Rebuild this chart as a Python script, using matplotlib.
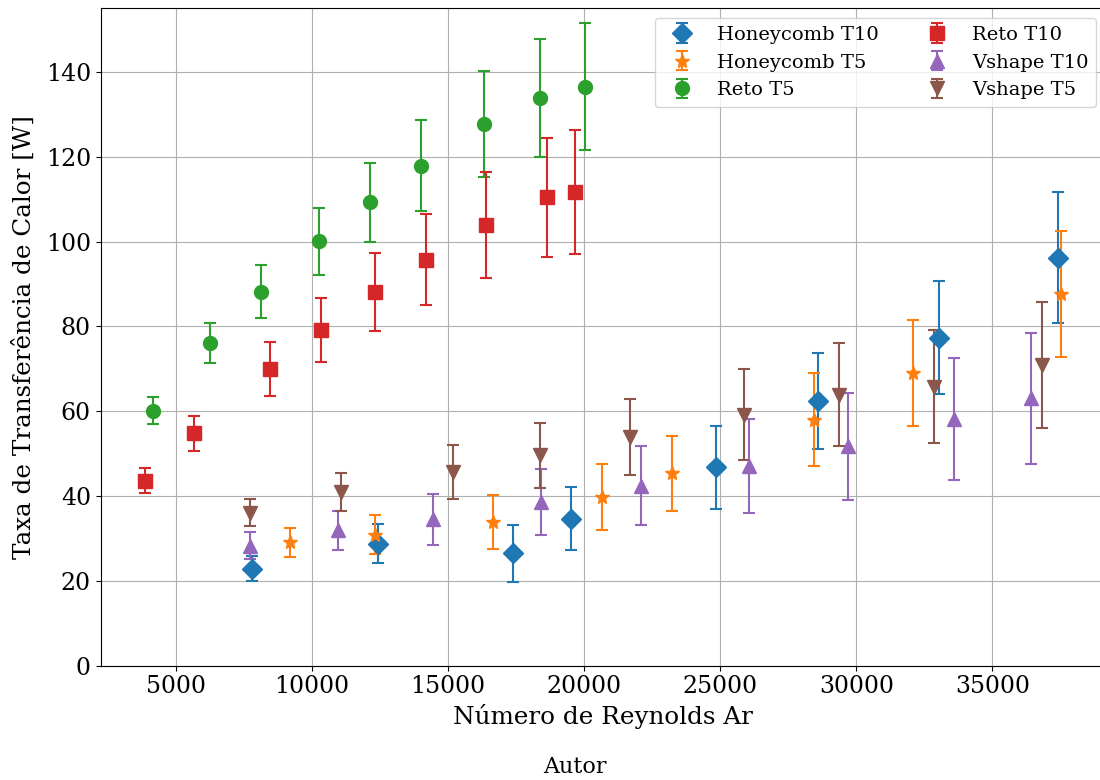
import matplotlib
matplotlib.use("Agg")
import matplotlib.pyplot as plt

plt.rcParams["font.family"] = ["DejaVu Serif"]

# Honeycomb, passo T10
hc10_re = [7773, 12416, 17368, 19522, 24828, 28603, 33039, 37402]
hc10_q = [22.9, 28.8, 26.5, 34.7, 46.8, 62.4, 77.3, 96.2]
hc10_err = [2.9, 4.7, 6.7, 7.5, 9.75, 11.25, 13.3, 15.4]

# Honeycomb, passo T5
hc5_re = [9191, 12300, 16646, 20669, 23223, 28444, 32071, 37512]
hc5_q = [29.1, 30.9, 33.9, 39.8, 45.4, 58.0, 69.0, 87.6]
hc5_err = [3.45, 4.6, 6.3, 7.85, 8.85, 10.95, 12.45, 14.9]

# Reto, passo T5
r5_re = [4160, 6260, 8134, 10235, 12125, 13995, 16330, 18390, 20035]
r5_q = [60.1, 76.0, 88.2, 100.1, 109.3, 117.9, 127.7, 133.9, 136.5]
r5_err = [3.15, 4.7, 6.2, 7.9, 9.3, 10.8, 12.5, 13.9, 15.0]

# Reto, passo T10
r10_re = [3868, 5667, 8448, 10339, 12312, 14169, 16400, 18644, 19676]
r10_q = [43.6, 54.75, 70.0, 79.2, 88.1, 95.7, 103.9, 110.4, 111.7]
r10_err = [2.9, 4.15, 6.3, 7.6, 9.3, 10.7, 12.4, 14.0, 14.7]

# Vshape, passo T10
v10_re = [7708, 10958, 14427, 18400, 22088, 26054, 29706, 33591, 36422]
v10_q = [28.3, 31.9, 34.5, 38.6, 42.4, 47.1, 51.7, 58.2, 63.1]
v10_err = [3.15, 4.6, 6.0, 7.7, 9.3, 11.0, 12.6, 14.3, 15.45]

# Vshape, passo T5
v5_re = [7708, 11048, 15163, 18387, 21700, 25858, 29350, 32855, 36838]
v5_q = [36.1, 40.9, 45.7, 49.6, 53.9, 59.2, 63.9, 65.8, 70.9]
v5_err = [3.1, 4.5, 6.3, 7.6, 9.0, 10.8, 12.2, 13.4, 14.9]

series = [
    ("Honeycomb T10", hc10_re, hc10_q, hc10_err, "D", "C0"),
    ("Honeycomb T5", hc5_re, hc5_q, hc5_err, "*", "C1"),
    ("Reto T5", r5_re, r5_q, r5_err, "o", "C2"),
    ("Reto T10", r10_re, r10_q, r10_err, "s", "C3"),
    ("Vshape T10", v10_re, v10_q, v10_err, "^", "C4"),
    ("Vshape T5", v5_re, v5_q, v5_err, "v", "C5"),
]

fig = plt.figure(figsize=(11, 7.8), dpi=100)
ax = fig.add_axes([0.09155, 0.14654, 0.91373, 0.84282])

for label, re, q, err, mk, col in series:
    ax.errorbar(re, q, yerr=err, fmt=mk, color=col, markersize=10,
                capsize=4.5, elinewidth=1.5, capthick=1.5, label=label)

ax.set_xlim(2230, 39170)
ax.set_ylim(0, 155)
ax.set_xticks([5000, 10000, 15000, 20000, 25000, 30000, 35000])
ax.set_yticks([0, 20, 40, 60, 80, 100, 120, 140])
ax.tick_params(labelsize=17)
ax.grid(True, color="#b0b0b0", linewidth=0.8)
ax.set_axisbelow(True)

ax.set_xlabel("Número de Reynolds Ar", fontsize=17.7)
ax.set_ylabel("Taxa de Transferência de Calor [W]", fontsize=17.7, labelpad=7)

ax.legend(loc="upper right", ncol=2, fontsize=14)

fig.text(0.5223, 13 / 780, "Autor", ha="center", va="center", fontsize=16)

fig.savefig("out.png", dpi=100)
